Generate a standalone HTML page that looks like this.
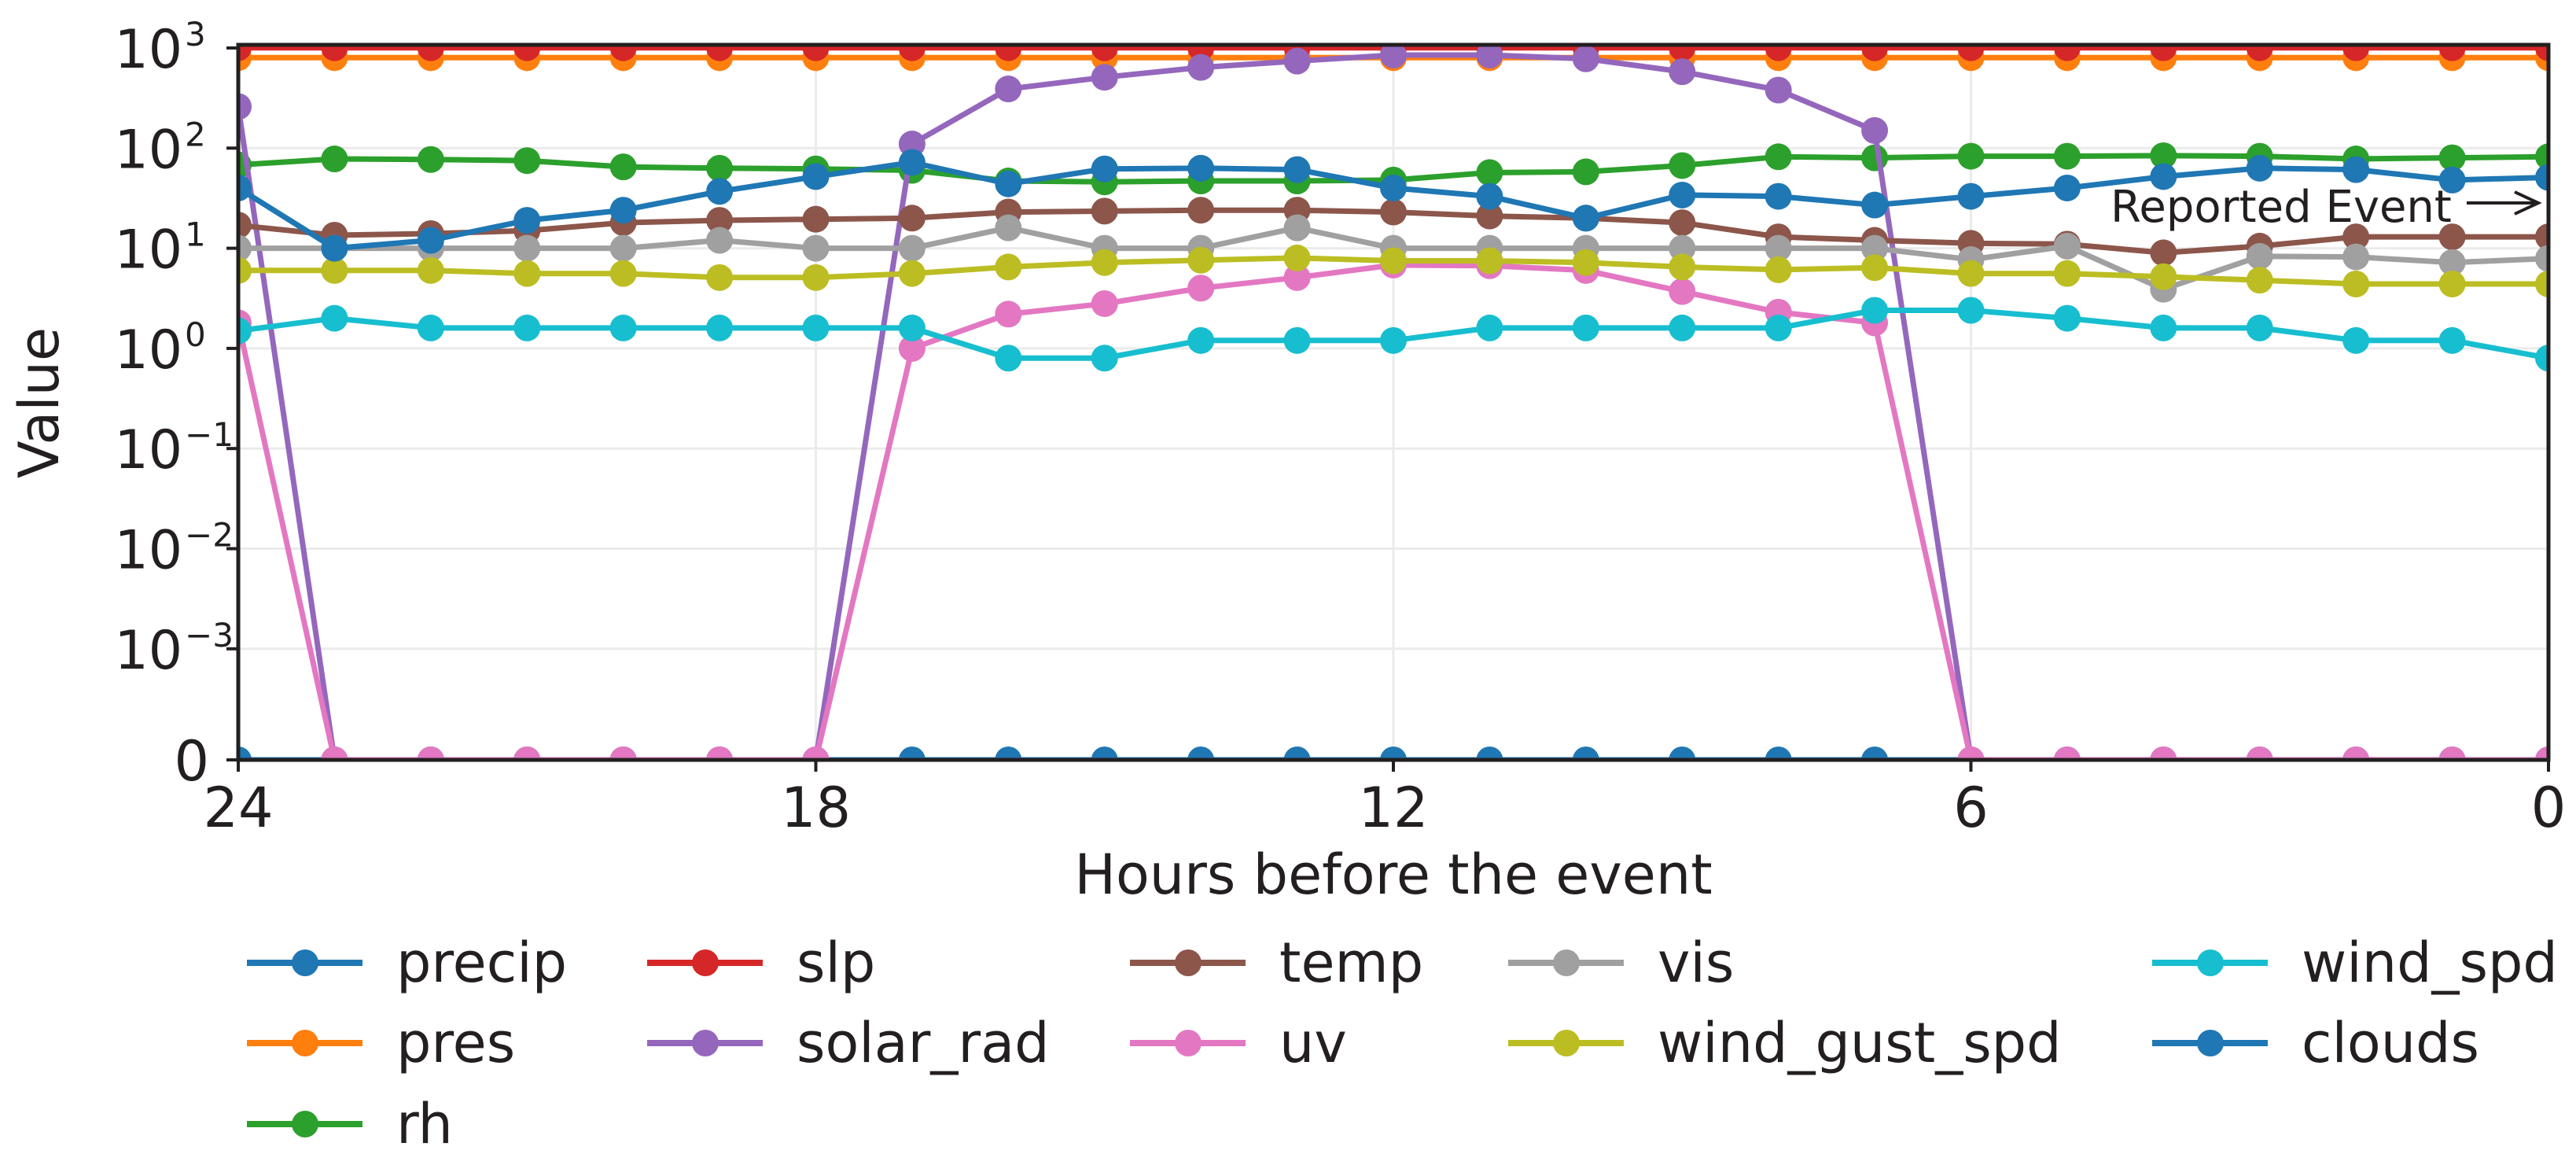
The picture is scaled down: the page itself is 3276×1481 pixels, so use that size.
<!DOCTYPE html>
<html><head><meta charset="utf-8"><style>
html,body{margin:0;padding:0;background:#fff;}
svg{display:block;font-family:"DejaVu Sans","Liberation Sans",sans-serif;}
</style></head><body>
<svg id="chart" width="3276" height="1481" viewBox="0 0 3276 1481" xmlns="http://www.w3.org/2000/svg">
<defs><clipPath id="plotclip"><rect x="303" y="57" width="2938" height="909"/></clipPath></defs>
<g id="grid"></g>
<g id="series" clip-path="url(#plotclip)"></g>
<g id="axes"></g>
<g id="legend"></g>
<text x="0" y="0" transform="translate(74,512) rotate(-90)" font-size="70" text-anchor="middle" fill="#231f20">Value</text>
<text x="1772" y="1136" font-size="70" text-anchor="middle" fill="#231f20">Hours before the event</text>
<g>
<text x="2684" y="282" font-size="56" fill="#231f20">Reported Event</text>
<line x1="3137" y1="258" x2="3226" y2="258" stroke="#231f20" stroke-width="4"/>
<path d="M3198 244 L3228 258 L3198 272" fill="none" stroke="#231f20" stroke-width="4"/>
</g>
</svg>
<script>
const hours = [24,23,22,21,20,19,18,17,16,15,14,13,12,11,10,9,8,7,6,5,4,3,2,1,0];
const xTicks = [24,18,12,6,0];
const yTickExps = [3,2,1,0,-1,-2,-3];
const seriesNames = ["precip","pres","rh","slp","solar_rad","temp","uv","vis","wind_gust_spd","wind_spd","clouds"];
const seriesColors = ["#1f77b4","#ff7f0e","#2ca02c","#d62728","#9467bd","#8c564b","#e377c2","#a0a0a0","#bcbd22","#17becf","#1f77b4"];
const precip = [0,0,0,0,0,0,0,0,0,0,0,0,0,0,0,0,0,0,0,0,0,0,0,0,0];
const pres = [800,800,800,800,800,800,800,800,800,800,800,800,800,800,800,800,800,800,800,800,800,800,800,800,800];
const rh = [68,78,77,75,65,63,62,60,47,46,47,47,48,57,58,67,82,80,83,83,84,83,78,80,82];
const slp = [1005,1005,1005,1005,1005,1005,1005,1005,1005,1005,1005,1005,1005,1005,1005,1005,1005,1005,1005,1005,1005,1005,1005,1005,1005];
const solar_rad = [260,0,0,0,0,0,0,110,390,510,640,740,850,850,780,580,380,150,0,0,0,0,0,0,0];
const temp = [17,13.5,14,15,18,19,19.5,20,23,23.5,24,24,23,21,20,18,13,12,11.2,11,9,10.5,13,13,13];
const uv = [1.8,0,0,0,0,0,0,1.0,2.2,2.8,4.0,5.1,6.8,6.7,6.0,3.7,2.3,1.8,0,0,0,0,0,0,0];
const vis = [10,10,10,10,10,12,10,10,16,10,10,16,10,10,10,10,10,10,7.7,10.5,3.9,8.3,8.2,7.2,7.9];
const wind_gust_spd = [6,6,6,5.6,5.6,5.1,5.1,5.6,6.5,7.2,7.6,8,7.5,7.5,7.2,6.5,6.1,6.4,5.6,5.6,5.2,4.8,4.4,4.4,4.4];
const wind_spd = [1.5,2.0,1.6,1.6,1.6,1.6,1.6,1.6,0.8,0.8,1.2,1.2,1.2,1.6,1.6,1.6,1.6,2.4,2.4,2.0,1.6,1.6,1.2,1.2,0.8];
const clouds = [40,10,12,19,24,37,52,72,44,62,63,61,40,33,20,34,33,27,33,40,52,63,61,48,51];
const seriesValues = [precip,pres,rh,slp,solar_rad,temp,uv,vis,wind_gust_spd,wind_spd,clouds];

const NS="http://www.w3.org/2000/svg";
const X0=303, X1=3241, YTOP=57, Y3=61, DEC=127.3, YZERO=966;
function xs(h){return X0+(24-h)*(X1-X0)/24;}
function ys(v){return v<=0?YZERO:Y3-(Math.log10(v)-3)*DEC;}
function mk(tag,attrs,parent){const e=document.createElementNS(NS,tag);for(const k in attrs)e.setAttribute(k,attrs[k]);parent.appendChild(e);return e;}
const grid=document.getElementById('grid'),axes=document.getElementById('axes'),ser=document.getElementById('series'),leg=document.getElementById('legend');
const INK="#231f20";
xTicks.forEach(t=>{const l=mk('line',{x1:xs(t),x2:xs(t),y1:YTOP,y2:YZERO,stroke:'#ebebeb','stroke-width':3},grid);

});
yTickExps.forEach(e=>{const y=ys(Math.pow(10,e));const l=mk('line',{x1:X0,x2:X1,y1:y,y2:y,stroke:'#ebebeb','stroke-width':3},grid);

});
seriesValues.forEach((vals,i)=>{
  const g=mk('g',{},ser);
  
  
  const pts=vals.map((v,j)=>xs(hours[j]).toFixed(1)+','+ys(v).toFixed(1)).join(' ');
  mk('polyline',{points:pts,fill:'none',stroke:seriesColors[i],'stroke-width':7,'stroke-linejoin':'round'},g);
  vals.forEach((v,j)=>{const c=mk('circle',{cx:xs(hours[j]),cy:ys(v),r:17,fill:seriesColors[i]},g);
    
    });
});
const sp=mk('rect',{x:X0,y:YTOP,width:X1-X0,height:YZERO-YTOP,fill:'none',stroke:INK,'stroke-width':5},axes);


xTicks.forEach(t=>{const x=xs(t);mk('line',{x1:x,x2:x,y1:YZERO,y2:YZERO+15,stroke:INK,'stroke-width':4},axes);
  const tx=mk('text',{x:x,y:1051,'font-size':70,'text-anchor':'middle',fill:INK},axes);tx.textContent=String(t);
  
  });
yTickExps.forEach(e=>{const y=ys(Math.pow(10,e));mk('line',{x1:X0-15,x2:X0,y1:y,y2:y,stroke:INK,'stroke-width':4},axes);
  const tx=mk('text',{x:232,y:y+25,'font-size':68,'text-anchor':'end',fill:INK},axes);tx.textContent='10';
  
  
  const sup=mk('text',{x:235,y:y-3,'font-size':42,'text-anchor':'start',fill:INK},axes);sup.textContent=(e<0?'\u2212':'')+Math.abs(e);
  
  });
mk('line',{x1:X0-15,x2:X0,y1:YZERO,y2:YZERO,stroke:INK,'stroke-width':4},axes);
const z=mk('text',{x:266,y:YZERO+26,'font-size':70,'text-anchor':'end',fill:INK},axes);z.textContent='0';


const colX=[314,823,1437,1918,2737], rowY=[1224,1326,1429];
const layout=[[0,0],[0,1],[0,2],[1,0],[1,1],[2,0],[2,1],[3,0],[3,1],[4,0],[4,1]];
layout.forEach((p,i)=>{const x=colX[p[0]],y=rowY[p[1]];
  const g=mk('g',{},leg);
  
  
  mk('line',{x1:x,x2:x+147,y1:y,y2:y,stroke:seriesColors[i],'stroke-width':8},g);
  mk('circle',{cx:x+74,cy:y,r:17,fill:seriesColors[i]},g);
  const t=mk('text',{x:x+190,y:y+24,'font-size':70,fill:INK},g);t.textContent=seriesNames[i];});
</script>
</body></html>
